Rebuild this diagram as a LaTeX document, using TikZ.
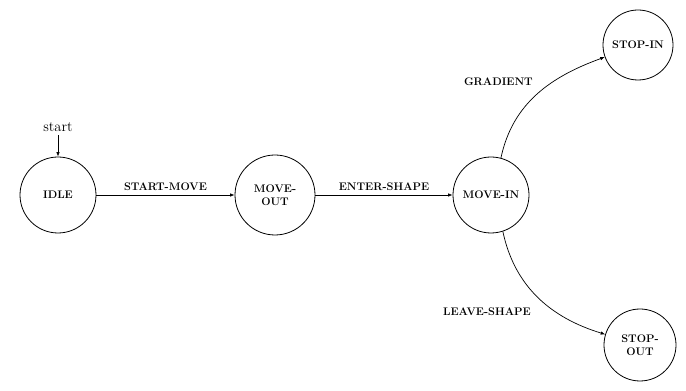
\documentclass[tikz,border=0pt]{standalone}
\usetikzlibrary{arrows.meta}
\begin{document}
\begin{tikzpicture}[x=1pt,y=1pt,
  state/.style={circle,draw,line width=0.8pt,minimum size=76pt,inner sep=0pt,align=center,
    font=\fontsize{11}{13.5}\selectfont\bfseries},
  lbl/.style={font=\fontsize{11}{13.5}\selectfont\bfseries},
  arr/.style={-{Latex[length=4.5pt,width=3.5pt]},line width=0.7pt}]
\useasboundingbox (0,0) rectangle (686,391);
\node[state] (idle) at (58,196) {IDLE};
\node[state,minimum size=80pt] (moveout) at (275,196) {MOVE-\\OUT};
\node[state] (movein) at (491,196) {MOVE-IN};
\node[state,minimum size=70pt] (stopin) at (638,346) {STOP-IN};
\node[state,minimum size=72pt] (stopout) at (640,46) {STOP-\\OUT};
\node[font=\fontsize{14.5}{17}\selectfont] (start) at (58,264) {start};
\draw[arr] (start) -- (idle);
\draw[arr] (idle) -- node[lbl,above=1pt] {START-MOVE} (moveout);
\draw[arr] (moveout) -- node[lbl,above=1pt] {ENTER-SHAPE} (movein);
\draw[arr] (movein.75) to[out=78,in=200] node[lbl,pos=0.64,anchor=east,xshift=-17pt] {GRADIENT} (stopin);
\draw[arr] (movein.-72) to[out=-78,in=163] node[lbl,pos=0.66,anchor=east,xshift=-22pt] {LEAVE-SHAPE} (stopout);
\end{tikzpicture}
\end{document}
